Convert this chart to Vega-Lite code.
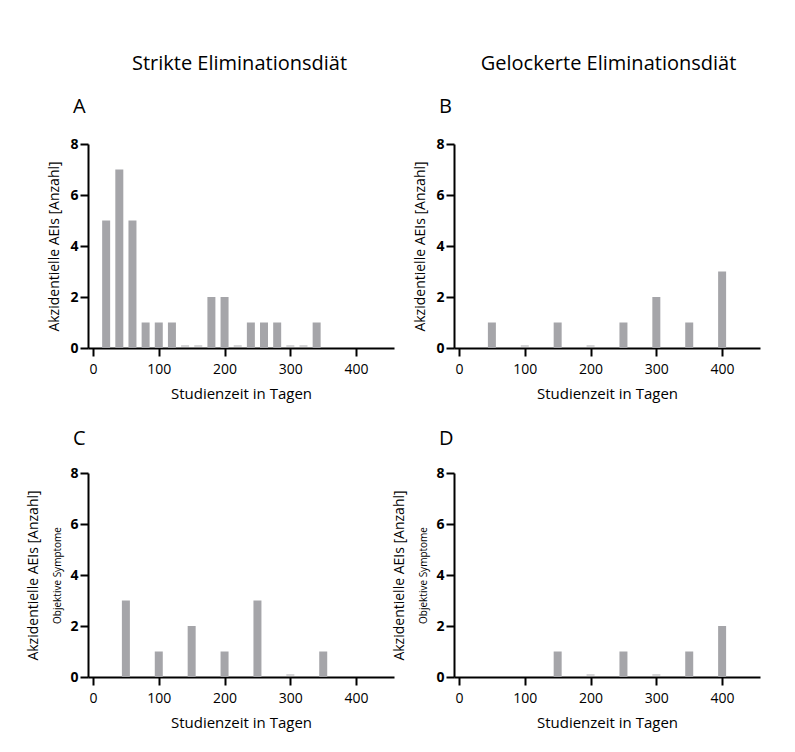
{
  "$schema": "https://vega.github.io/schema/vega-lite/v6.json",
  "padding": {"left": 26, "top": 54, "right": 5, "bottom": 5},
  "background": "white",
  "config": {
    "font": "Open Sans",
    "view": {"stroke": null},
    "axis": {"domainColor": "black", "domainWidth": 2, "tickColor": "black", "tickWidth": 2, "tickSize": 8, "labelColor": "black", "titleColor": "black", "grid": false, "labelFontSize": 14, "titleFontSize": 15, "titleFontWeight": "normal", "labelFont": "Open Sans", "titleFont": "Open Sans"},
    "axisX": {"labelPadding": 6, "titlePadding": 10},
    "axisY": {"labelFontWeight": "bold", "labelPadding": 2, "titleFontSize": 14},
    "title": {"fontWeight": "normal", "color": "black", "font": "Open Sans"}
  },
  "datasets": {
    "A": [
      {"tag": 20, "anzahl": 5}, {"tag": 40, "anzahl": 7}, {"tag": 60, "anzahl": 5}, {"tag": 80, "anzahl": 1},
      {"tag": 100, "anzahl": 1}, {"tag": 120, "anzahl": 1}, {"tag": 140, "anzahl": 0}, {"tag": 160, "anzahl": 0},
      {"tag": 180, "anzahl": 2}, {"tag": 200, "anzahl": 2}, {"tag": 220, "anzahl": 0}, {"tag": 240, "anzahl": 1},
      {"tag": 260, "anzahl": 1}, {"tag": 280, "anzahl": 1}, {"tag": 300, "anzahl": 0}, {"tag": 320, "anzahl": 0},
      {"tag": 340, "anzahl": 1}
    ],
    "B": [
      {"tag": 50, "anzahl": 1}, {"tag": 100, "anzahl": 0}, {"tag": 150, "anzahl": 1}, {"tag": 200, "anzahl": 0},
      {"tag": 250, "anzahl": 1}, {"tag": 300, "anzahl": 2}, {"tag": 350, "anzahl": 1}, {"tag": 400, "anzahl": 3}
    ],
    "C": [
      {"tag": 50, "anzahl": 3}, {"tag": 100, "anzahl": 1}, {"tag": 150, "anzahl": 2}, {"tag": 200, "anzahl": 1},
      {"tag": 250, "anzahl": 3}, {"tag": 300, "anzahl": 0}, {"tag": 350, "anzahl": 1}
    ],
    "D": [
      {"tag": 150, "anzahl": 1}, {"tag": 200, "anzahl": 0}, {"tag": 250, "anzahl": 1}, {"tag": 300, "anzahl": 0},
      {"tag": 350, "anzahl": 1}, {"tag": 400, "anzahl": 2}
    ]
  },
  "spacing": -2,
  "hconcat": [
    {
      "title": {"text": "Strikte Eliminationsdiät", "fontSize": 20, "anchor": "middle", "frame": "bounds", "dx": 29, "offset": 23},
      "bounds": "flush",
      "spacing": 125,
      "vconcat": [
        {
          "width": 306, "height": 204,
          "title": {"text": "A", "fontSize": 20, "anchor": "start", "frame": "group", "dx": -15, "offset": 20},
          "data": {"name": "A"},
          "encoding": {
            "x": {"field": "tag", "type": "quantitative", "scale": {"domain": [0, 450], "nice": false}, "axis": {"values": [0, 100, 200, 300, 400], "title": "Studienzeit in Tagen"}},
            "y": {"field": "anzahl", "type": "quantitative", "scale": {"domain": [0, 8], "nice": false}, "axis": {"values": [0, 2, 4, 6, 8], "title": "Akzidentielle AEIs [Anzahl]", "titlePadding": 8}}
          },
          "layer": [
            {"mark": {"type": "bar", "size": 8, "color": "#a5a5a9"}},
            {"transform": [{"filter": "datum.anzahl == 0"}], "mark": {"type": "tick", "orient": "horizontal", "size": 8, "thickness": 2, "color": "#c4c4c7", "yOffset": -2}}
          ]
        },
        {
          "width": 306, "height": 204,
          "title": {"text": "C", "fontSize": 20, "anchor": "start", "frame": "group", "dx": -15, "offset": 17},
          "data": {"name": "C"},
          "encoding": {
            "x": {"field": "tag", "type": "quantitative", "scale": {"domain": [0, 450], "nice": false}, "axis": {"values": [0, 100, 200, 300, 400], "title": "Studienzeit in Tagen"}}
          },
          "layer": [
            {"mark": {"type": "bar", "size": 8, "color": "#a5a5a9"},
             "encoding": {"y": {"field": "anzahl", "type": "quantitative", "scale": {"domain": [0, 8], "nice": false}, "axis": {"values": [0, 2, 4, 6, 8], "title": "Akzidentielle AEIs [Anzahl]", "titlePadding": 29}}}},
            {"transform": [{"filter": "datum.anzahl == 0"}], "mark": {"type": "tick", "orient": "horizontal", "size": 8, "thickness": 2, "color": "#c4c4c7", "yOffset": -2},
             "encoding": {"y": {"field": "anzahl", "type": "quantitative", "scale": {"domain": [0, 8], "nice": false}, "axis": {"orient": "left", "title": "Objektive Symptome", "titleFontSize": 10, "titlePadding": 26, "labels": false, "ticks": false, "domain": false}}}}
          ],
          "resolve": {"scale": {"y": "independent"}, "axis": {"y": "independent"}}
        }
      ]
    },
    {
      "title": {"text": "Gelockerte Eliminationsdiät", "fontSize": 20, "anchor": "middle", "frame": "bounds", "dx": 32, "offset": 23},
      "bounds": "flush",
      "spacing": 125,
      "vconcat": [
        {
          "width": 306, "height": 204,
          "title": {"text": "B", "fontSize": 20, "anchor": "start", "frame": "group", "dx": -15, "offset": 20},
          "data": {"name": "B"},
          "encoding": {
            "x": {"field": "tag", "type": "quantitative", "scale": {"domain": [0, 450], "nice": false}, "axis": {"values": [0, 100, 200, 300, 400], "title": "Studienzeit in Tagen"}},
            "y": {"field": "anzahl", "type": "quantitative", "scale": {"domain": [0, 8], "nice": false}, "axis": {"values": [0, 2, 4, 6, 8], "title": "Akzidentielle AEIs [Anzahl]", "titlePadding": 8}}
          },
          "layer": [
            {"mark": {"type": "bar", "size": 8, "color": "#a5a5a9"}},
            {"transform": [{"filter": "datum.anzahl == 0"}], "mark": {"type": "tick", "orient": "horizontal", "size": 8, "thickness": 2, "color": "#c4c4c7", "yOffset": -2}}
          ]
        },
        {
          "width": 306, "height": 204,
          "title": {"text": "D", "fontSize": 20, "anchor": "start", "frame": "group", "dx": -15, "offset": 17},
          "data": {"name": "D"},
          "encoding": {
            "x": {"field": "tag", "type": "quantitative", "scale": {"domain": [0, 450], "nice": false}, "axis": {"values": [0, 100, 200, 300, 400], "title": "Studienzeit in Tagen"}}
          },
          "layer": [
            {"mark": {"type": "bar", "size": 8, "color": "#a5a5a9"},
             "encoding": {"y": {"field": "anzahl", "type": "quantitative", "scale": {"domain": [0, 8], "nice": false}, "axis": {"values": [0, 2, 4, 6, 8], "title": "Akzidentielle AEIs [Anzahl]", "titlePadding": 29}}}},
            {"transform": [{"filter": "datum.anzahl == 0"}], "mark": {"type": "tick", "orient": "horizontal", "size": 8, "thickness": 2, "color": "#c4c4c7", "yOffset": -2},
             "encoding": {"y": {"field": "anzahl", "type": "quantitative", "scale": {"domain": [0, 8], "nice": false}, "axis": {"orient": "left", "title": "Objektive Symptome", "titleFontSize": 10, "titlePadding": 26, "labels": false, "ticks": false, "domain": false}}}}
          ],
          "resolve": {"scale": {"y": "independent"}, "axis": {"y": "independent"}}
        }
      ]
    }
  ]
}
